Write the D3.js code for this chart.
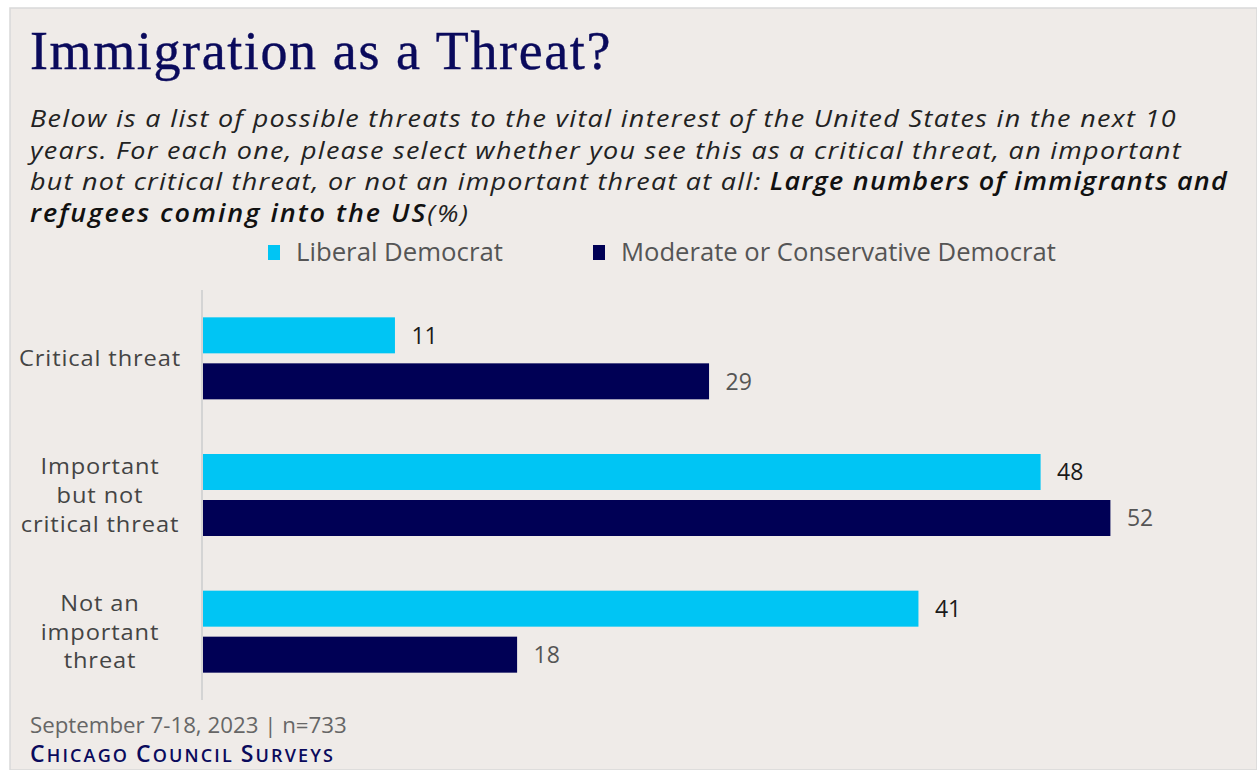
<!DOCTYPE html>
<html>
<head>
<meta charset="utf-8">
<script src="https://cdn.jsdelivr.net/npm/d3@7"></script>
<style>
  html, body { margin: 0; padding: 0; background: #ffffff; }
  svg { display: block; }
</style>
</head>
<body>
<svg id="chart" width="1257" height="770"></svg>
<script>
// Survey answers by party identification (%)
const categories = ["Critical threat", "Important but not critical threat", "Not an important threat"];
const categoryLines = [["Critical threat"], ["Important", "but not", "critical threat"], ["Not an", "important", "threat"]];
const seriesNames = ["Liberal Democrat", "Moderate or Conservative Democrat"];
const liberalValues = [11, 48, 41];
const moderateValues = [29, 52, 18];
const seriesColors = ["#00c5f4", "#000055"];
const labelColors = ["#1a1a1a", "#555555"];

const svg = d3.select("#chart");
const W = 1257, H = 770;
const SANS = "'Open Sans', sans-serif";
const STRETCH = 1.1; // widen body glyphs a little

// scale a text's font size so it spans the given width
function fitWidth(sel, width) {
  const node = sel.node();
  const fs = parseFloat(sel.attr("font-size"));
  const w = node.getComputedTextLength();
  const size = fs * width / w;
  sel.attr("font-size", size);
  return size;
}
// spread letters so a text spans the given width
function spreadTo(sel, width) {
  const node = sel.node();
  const n = node.getNumberOfChars();
  const w = node.getComputedTextLength();
  const ls = (width - w) / n;
  sel.attr("letter-spacing", ls);
  return ls;
}

// panel background with thin frame
svg.append("rect").attr("x", 0).attr("y", 0).attr("width", W).attr("height", H).attr("fill", "#ffffff");
svg.append("rect").attr("x", 10).attr("y", 8).attr("width", W - 10).attr("height", H - 8)
  .attr("fill", "#efebe8").attr("stroke", "#d9d9d9").attr("stroke-width", 1.5);

// title
const title = svg.append("text").attr("x", 30).attr("y", 69)
  .attr("font-family", "'Liberation Serif', serif").attr("font-size", 54)
  .attr("fill", "#0a0a5c").attr("stroke", "#0a0a5c").attr("stroke-width", 0.4)
  .text("Immigration as a Threat?");
spreadTo(title, 582);

// question wording
const sub = svg.append("g").attr("font-family", SANS)
  .attr("font-style", "italic").attr("fill", "#222222");
const subLines = [
  [{t: "Below is a list of possible threats to the vital interest of the United States in the next 10"}],
  [{t: "years. For each one, please select whether you see this as a critical threat, an important"}],
  [{t: "but not critical threat, or not an important threat at all: "}, {t: "Large numbers of immigrants and", b: true}],
  [{t: "refugees coming into the US", b: true}, {t: "(%)"}]
];
const subWidths = [1147, 1152, 1198, 440];
subLines.forEach((parts, i) => {
  const t = sub.append("text").attr("x", 0).attr("y", 0).attr("font-size", 24.5)
    .attr("transform", `translate(30,${127 + i * 31.7}) scale(${STRETCH},1)`);
  parts.forEach(p => {
    t.append("tspan").attr("font-weight", p.b ? 600 : 400).attr("fill", p.b ? "#111111" : "#222222").text(p.t);
  });
  spreadTo(t, subWidths[i] / STRETCH);
});

// legend
const legendX = [268, 593];
const legendW = [207, 435];
const legend = svg.append("g");
seriesNames.forEach((name, i) => {
  legend.append("rect").attr("x", legendX[i]).attr("y", 245).attr("width", 12).attr("height", 15)
    .attr("fill", seriesColors[i]);
  const t = legend.append("text").attr("x", legendX[i] + 28).attr("y", 261)
    .attr("font-family", SANS).attr("font-size", 22).attr("fill", "#555555")
    .text(name);
  fitWidth(t, legendW[i]);
});

// scales
const x = d3.scaleLinear().domain([0, 60]).range([203, 1250]);
const y = d3.scaleBand().domain(categories).range([290, 700]);
const inner = d3.scaleBand().domain(seriesNames)
  .range([(y.bandwidth() - 82) / 2, (y.bandwidth() + 82) / 2]).paddingInner(10 / 46);

const rows = categories.map((c, i) => ({
  cat: c,
  vals: [liberalValues[i], moderateValues[i]]
}));

const groups = svg.append("g").selectAll("g").data(rows).join("g")
  .attr("transform", d => `translate(0,${y(d.cat)})`);

groups.selectAll("rect").data(d => d.vals.map((v, i) => ({v, i})))
  .join("rect")
  .attr("x", x(0))
  .attr("y", d => inner(seriesNames[d.i]))
  .attr("width", d => x(d.v) - x(0))
  .attr("height", inner.bandwidth())
  .attr("fill", d => seriesColors[d.i]);

groups.selectAll("text.val").data(d => d.vals.map((v, i) => ({v, i})))
  .join("text").attr("class", "val")
  .attr("x", d => x(d.v) + 16.5)
  .attr("y", d => inner(seriesNames[d.i]) + inner.bandwidth() / 2 + 8.5)
  .attr("font-family", SANS).attr("font-size", 23)
  .attr("fill", d => labelColors[d.i])
  .text(d => d.v);

// category labels
const catSize = 21.5;
const catSpacing = (() => {
  const probe = svg.append("text").attr("font-family", SANS).attr("font-size", catSize).text(categoryLines[0][0]);
  const ls = spreadTo(probe, 162 / STRETCH);
  probe.remove();
  return ls;
})();
categories.forEach((c, i) => {
  const lines = categoryLines[i];
  const cy = y(c) + y.bandwidth() / 2;
  lines.forEach((l, j) => {
    svg.append("text").attr("text-anchor", "middle")
      .attr("font-family", SANS).attr("font-size", catSize).attr("fill", "#444444")
      .attr("letter-spacing", catSpacing)
      .attr("transform", `translate(100,${cy + 8 + (j - (lines.length - 1) / 2) * 28.6}) scale(${STRETCH},1)`)
      .text(l);
  });
});

// vertical baseline
svg.append("line").attr("x1", x(0) - 1).attr("x2", x(0) - 1).attr("y1", 290).attr("y2", 700)
  .attr("stroke", "#d4d4d4").attr("stroke-width", 2);

// footer
const foot = svg.append("text").attr("x", 30).attr("y", 733)
  .attr("font-family", SANS).attr("font-size", 20).attr("fill", "#666666")
  .text("September 7-18, 2023 | n=733");
fitWidth(foot, 317);
const brand = svg.append("text").attr("x", 30).attr("y", 762)
  .attr("font-family", SANS).attr("font-weight", 600).attr("fill", "#0a0a5c").attr("font-size", 20);
[["C", 23], ["HICAGO ", 18], ["C", 23], ["OUNCIL ", 18], ["S", 23], ["URVEYS", 18]].forEach(([s, fs]) => {
  brand.append("tspan").attr("font-size", fs).text(s);
});
spreadTo(brand, 305);
</script>
</body>
</html>
